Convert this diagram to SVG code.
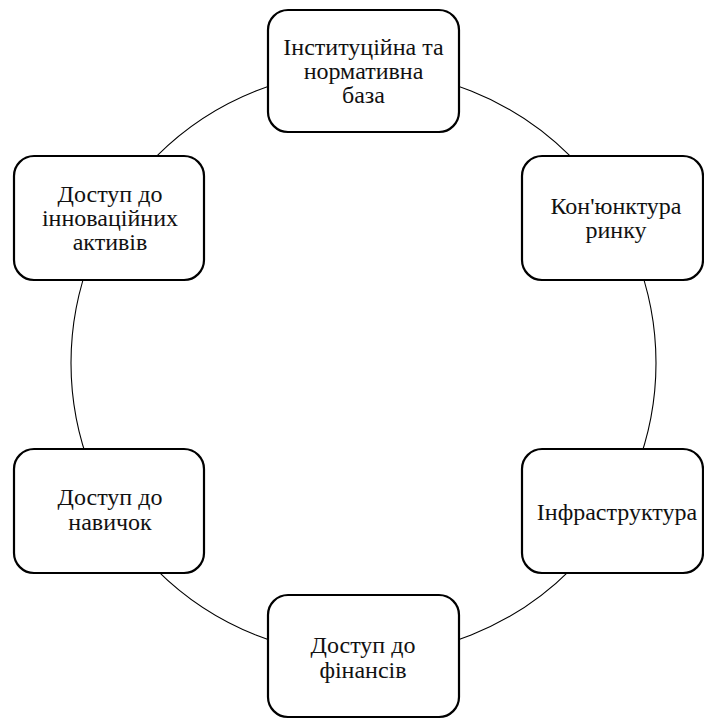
<svg xmlns="http://www.w3.org/2000/svg" width="704" height="719" viewBox="0 0 704 719">
<style>
.box{fill:#fff;stroke:#000;stroke-width:2.2}
.ring{fill:none;stroke:#000;stroke-width:1.1}
</style>
<rect width="704" height="719" fill="#fff"/>
<g id="connectors">
<circle class="ring" cx="363.5" cy="363" r="292.5"/>
</g>
<g font-family="'Liberation Serif', 'Times New Roman', 'DejaVu Serif', serif" font-size="24" fill="#111" text-anchor="middle">
<g id="n1">
<rect class="box" x="268" y="10" width="191" height="122" rx="20"/>
<text x="363.5" y="55">Інституційна та</text>
<text x="363.5" y="79">нормативна</text>
<text x="363.5" y="103">база</text>
</g>
<g id="n2">
<rect class="box" x="522" y="156" width="181" height="124" rx="20"/>
<text x="616" y="214">Кон'юнктура</text>
<text x="616" y="238">ринку</text>
</g>
<g id="n3">
<rect class="box" x="522" y="449" width="181" height="124" rx="20"/>
<text x="617" y="520">Інфраструктура</text>
</g>
<g id="n4">
<rect class="box" x="268" y="595" width="191" height="122" rx="20"/>
<text x="363" y="653">Доступ до</text>
<text x="363" y="678">фінансів</text>
</g>
<g id="n5">
<rect class="box" x="14" y="449" width="190" height="124" rx="20"/>
<text x="110" y="505">Доступ до</text>
<text x="110" y="530">навичок</text>
</g>
<g id="n6">
<rect class="box" x="14" y="156" width="190" height="124" rx="20"/>
<text x="110" y="202">Доступ до</text>
<text x="110" y="226">інноваційних</text>
<text x="110" y="250">активів</text>
</g>
</g>
</svg>
